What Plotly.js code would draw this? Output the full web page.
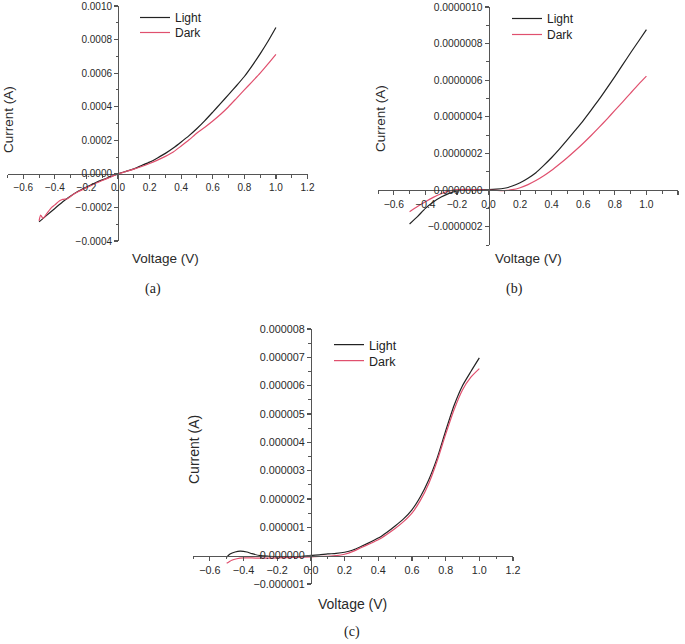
<!DOCTYPE html>
<html>
<head>
<meta charset="utf-8">
<script src="https://cdn.plot.ly/plotly-3.0.1.min.js"></script>
<style>html,body{margin:0;padding:0;background:#fff}#chart{width:685px;height:644px}</style>
</head>
<body>
<div id="chart"></div>
<script>
// ---------- Data ----------
// Panel (a)
const aLightV = [-0.5,-0.45,-0.4,-0.35,-0.3,-0.25,-0.2,-0.15,-0.1,-0.05,0,0.05,0.1,0.15,0.2,0.25,0.3,0.35,0.4,0.45,0.5,0.55,0.6,0.65,0.7,0.75,0.8,0.85,0.9,0.95,1.0];
const aLightI = [-0.000286,-0.000246,-0.000206,-0.000166,-0.000132,-0.000102,-0.000078,-0.000056,-0.000036,-0.000018,0,0.000015,0.00003,0.00005,0.00007,0.000095,0.000122,0.000154,0.00019,0.000228,0.00027,0.000317,0.000368,0.00042,0.000472,0.000525,0.00058,0.000645,0.000715,0.00079,0.000872];
const aDarkV = [-0.5,-0.49,-0.475,-0.45,-0.42,-0.4,-0.37,-0.35,-0.32,-0.3,-0.28,-0.25,-0.2,-0.15,-0.1,-0.05,0,0.05,0.1,0.15,0.2,0.25,0.3,0.35,0.4,0.45,0.5,0.55,0.6,0.65,0.7,0.75,0.8,0.85,0.9,0.95,1.0];
const aDarkI = [-0.00028,-0.000246,-0.000265,-0.000235,-0.0002,-0.000185,-0.00016,-0.000152,-0.000148,-0.000135,-0.00012,-0.000105,-0.000082,-0.00006,-0.00004,-0.00002,0,0.000014,0.000028,0.000044,0.000062,0.000082,0.000104,0.00013,0.000166,0.000203,0.000243,0.000278,0.000315,0.000355,0.0004,0.00045,0.0005,0.00055,0.0006,0.000655,0.000712];

// Panel (b)
const bV = [-0.5,-0.45,-0.4,-0.35,-0.3,-0.25,-0.2,-0.15,-0.1,-0.05,0,0.05,0.1,0.15,0.2,0.25,0.3,0.35,0.4,0.45,0.5,0.55,0.6,0.65,0.7,0.75,0.8,0.85,0.9,0.95,1.0];
const bLightI = [-1.85e-7,-1.45e-7,-1.0e-7,-6.5e-8,-3.8e-8,-1.8e-8,-5e-9,2e-9,3e-9,3e-9,3e-9,5e-9,1e-8,2.2e-8,4e-8,6.5e-8,9.5e-8,1.35e-7,1.78e-7,2.25e-7,2.75e-7,3.27e-7,3.8e-7,4.37e-7,4.95e-7,5.57e-7,6.2e-7,6.85e-7,7.5e-7,8.13e-7,8.76e-7];
const bDarkI = [-1.18e-7,-9e-8,-6.4e-8,-4e-8,-2e-8,-6e-9,2e-9,4e-9,3e-9,1e-9,0,-2e-9,-3e-9,2e-9,1.3e-8,3e-8,5.2e-8,7.8e-8,1.08e-7,1.42e-7,1.78e-7,2.16e-7,2.56e-7,2.98e-7,3.42e-7,3.88e-7,4.35e-7,4.82e-7,5.3e-7,5.77e-7,6.22e-7];

// Panel (c)
const cLightV = [-0.5,-0.48,-0.45,-0.42,-0.38,-0.35,-0.3,-0.25,-0.2,-0.15,-0.1,-0.05,0,0.05,0.1,0.15,0.2,0.25,0.3,0.35,0.4,0.45,0.5,0.55,0.6,0.65,0.7,0.75,0.8,0.85,0.9,0.95,1.0];
const cLightI = [-5e-8,6e-8,1.3e-7,1.6e-7,1.3e-7,7e-8,0,-2e-8,-3e-8,-3e-8,-3e-8,-2e-8,1e-8,3e-8,6e-8,8e-8,1.2e-7,2e-7,3.3e-7,4.7e-7,6.2e-7,8.2e-7,1.05e-6,1.3e-6,1.62e-6,2.08e-6,2.68e-6,3.45e-6,4.4e-6,5.3e-6,6.0e-6,6.5e-6,6.98e-6];
const cDarkV = [-0.5,-0.47,-0.44,-0.4,-0.35,-0.3,-0.2,-0.1,0,0.05,0.1,0.15,0.2,0.25,0.3,0.35,0.4,0.45,0.5,0.55,0.6,0.65,0.7,0.75,0.8,0.85,0.9,0.95,1.0];
const cDarkI = [-2.7e-7,-1.6e-7,-1.1e-7,-8e-8,-8e-8,-9e-8,-8e-8,-6e-8,-4e-8,-3e-8,-2e-8,0,5e-8,1.5e-7,2.9e-7,4.2e-7,5.6e-7,7.5e-7,9.6e-7,1.2e-6,1.5e-6,1.95e-6,2.55e-6,3.35e-6,4.28e-6,5.15e-6,5.85e-6,6.3e-6,6.6e-6];

const seriesNames = ['Light','Dark'];
const panelLabels = ['(a)','(b)','(c)'];
const xTitle = 'Voltage (V)';
const yTitle = 'Current (A)';

// ---------- Layout helpers ----------
const W = 685, H = 644;
const px = p => p / W;
const py = p => 1 - p / H;
const LIGHT = '#222222', DARK = '#e0506e';
const AX = '#555555';
const FONT = 'Liberation Sans, Arial, sans-serif';

const panels = [
  {xr:[-0.7,1.2], yr:[-0.0004,0.0010], xpx:[7.5,307.5], ypx:[6,241], yfmt:'.4f', ydt:0.0002, fs:10, ts:13.5},
  {xr:[-0.7,1.2], yr:[-0.0000003,0.0000010], xpx:[378,678], ypx:[7,245], yfmt:'.7f', ydt:0.0000002, fs:10.3, ts:13.5},
  {xr:[-0.7,1.2], yr:[-0.000001,0.000008], xpx:[193,513], ypx:[329,584], yfmt:'.6f', ydt:0.000001, fs:10.8, ts:14}
];

const layout = {
  width: W, height: H,
  margin: {l:0, r:0, t:0, b:0},
  paper_bgcolor: '#fff', plot_bgcolor: 'rgba(0,0,0,0)',
  font: {family: FONT, size: 10, color: '#333'},
  showlegend: true,
  annotations: []
};

panels.forEach((p, i) => {
  const s = i === 0 ? '' : String(i + 1);
  const xd = [px(p.xpx[0]), px(p.xpx[1])];
  const yd = [py(p.ypx[1]), py(p.ypx[0])];
  const xPos = yd[0] + (0 - p.yr[0]) / (p.yr[1] - p.yr[0]) * (yd[1] - yd[0]);
  const yPos = xd[0] + (0 - p.xr[0]) / (p.xr[1] - p.xr[0]) * (xd[1] - xd[0]);
  layout['xaxis' + s] = {
    domain: xd, range: p.xr, anchor: 'free', position: xPos,
    showline: true, linecolor: AX, linewidth: 1.3, zeroline: false, showgrid: false,
    ticks: 'outside', ticklen: 4, tickwidth: 1.2, tickcolor: AX,
    tick0: 0, dtick: 0.2, tickformat: '.1f',
    tickfont: {size: p.fs, color: '#2a2a2a', family: FONT},
    minor: {ticks: 'outside', ticklen: 2.5, tickwidth: 1, tickcolor: AX, dtick: 0.1, showgrid: false},
    fixedrange: true
  };
  layout['yaxis' + s] = {
    domain: yd, range: p.yr, anchor: 'free', position: yPos,
    showline: true, linecolor: AX, linewidth: 1.3, zeroline: false, showgrid: false,
    ticks: 'outside', ticklen: 4, tickwidth: 1.2, tickcolor: AX,
    tick0: 0, dtick: p.ydt, tickformat: p.yfmt,
    tickfont: {size: p.fs, color: '#2a2a2a', family: FONT},
    minor: {ticks: 'outside', ticklen: 2.5, tickwidth: 1, tickcolor: AX, dtick: p.ydt / 2, showgrid: false},
    fixedrange: true
  };
});

// one legend per entry so the rows sit as close as in the reference
const legPos = [[135, 3], [135, 18], [507, 4], [507, 20], [329, 330], [329, 346]];
const legKeys = [];
legPos.forEach((lp, i) => {
  const key = i === 0 ? 'legend' : 'legend' + (i + 1);
  legKeys.push(key);
  layout[key] = {
    x: px(lp[0]), y: py(lp[1]), xanchor: 'left', yanchor: 'top',
    bgcolor: 'rgba(0,0,0,0)', borderwidth: 0,
    font: {family: FONT, size: i >= 4 ? 12.5 : 12, color: '#222'},
    tracegroupgap: 0, itemwidth: 30
  };
});

// axis titles and panel labels
const titlePos = [
  {vx:165, vy:258, cx:8, cy:120, lx:153, ly:289},
  {vx:528, vy:258, cx:381, cy:119, lx:514, ly:289},
  {vx:353, vy:604, cx:194, cy:450, lx:352, ly:632}
];
titlePos.forEach((t, i) => {
  const ts = panels[i].ts;
  layout.annotations.push({text: xTitle, x: px(t.vx), y: py(t.vy), xref:'paper', yref:'paper', showarrow:false, xanchor:'center', yanchor:'middle', font:{family:FONT, size:ts, color:'#2a2a2a'}});
  layout.annotations.push({text: yTitle, x: px(t.cx), y: py(t.cy), xref:'paper', yref:'paper', showarrow:false, textangle:-90, xanchor:'center', yanchor:'middle', font:{family:FONT, size:ts, color:'#2a2a2a'}});
  layout.annotations.push({text: panelLabels[i], x: px(t.lx), y: py(t.ly), xref:'paper', yref:'paper', showarrow:false, xanchor:'center', yanchor:'middle', font:{family:'Liberation Serif, Times New Roman, serif', size:14, color:'#222'}});
});

const mk = (x, y, name, color, ax, leg) => ({
  x: x, y: y, name: name, type: 'scatter', mode: 'lines',
  line: {color: color, width: 1.2, shape: 'spline', smoothing: 0.6},
  xaxis: 'x' + ax, yaxis: 'y' + ax, legend: leg, hoverinfo: 'skip'
});

const data = [
  mk(aLightV, aLightI, seriesNames[0], LIGHT, '', legKeys[0]),
  mk(aDarkV, aDarkI, seriesNames[1], DARK, '', legKeys[1]),
  mk(bV, bLightI, seriesNames[0], LIGHT, '2', legKeys[2]),
  mk(bV, bDarkI, seriesNames[1], DARK, '2', legKeys[3]),
  mk(cLightV, cLightI, seriesNames[0], LIGHT, '3', legKeys[4]),
  mk(cDarkV, cDarkI, seriesNames[1], DARK, '3', legKeys[5])
];

Plotly.newPlot('chart', data, layout, {staticPlot: true, displayModeBar: false});
</script>
</body>
</html>
